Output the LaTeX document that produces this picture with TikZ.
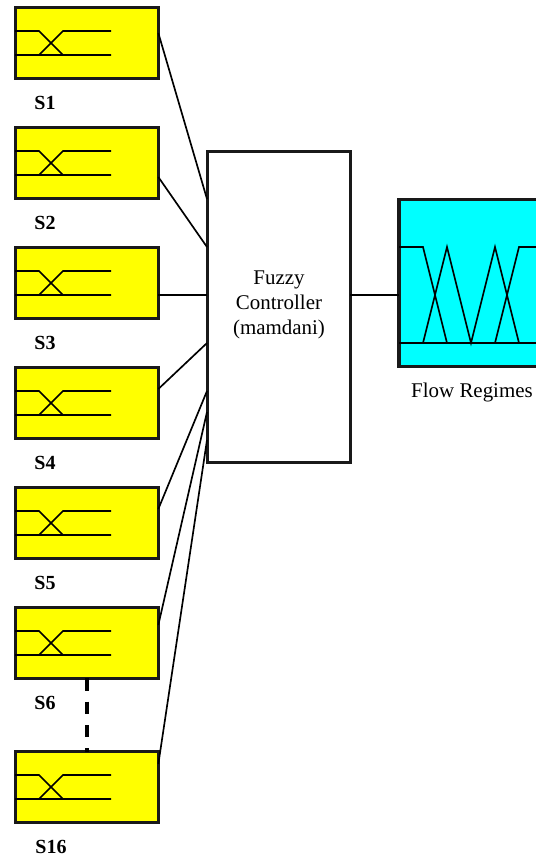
\documentclass[tikz,border=0pt]{standalone}
\usepackage{fontspec}
\setmainfont{Liberation Serif}
\usetikzlibrary{positioning}
\definecolor{sensoryellow}{rgb}{1,1,0}
\definecolor{regimecyan}{rgb}{0,1,1}

\begin{document}
\begin{tikzpicture}[x=0.75pt, y=-0.75pt, font=\fontsize{15.7}{18.7}\selectfont,
  sbox/.style={draw=black!90, line width=2.3pt, fill=sensoryellow, minimum width=107pt, minimum height=53pt, inner sep=0pt, outer sep=0pt},
  ctrl/.style={draw=black!90, line width=2.3pt, fill=white, align=center, minimum width=107pt, minimum height=233pt, inner sep=0pt, outer sep=0pt},
  regime/.style={draw=black!90, line width=2.3pt, fill=regimecyan, minimum width=107pt, minimum height=125pt, inner sep=0pt, outer sep=0pt},
  lbl/.style={font=\fontsize{15}{18}\selectfont\bfseries, inner sep=0pt, anchor=base},
  wire/.style={draw=black, line width=1.25pt},
  mf/.style={draw=black, line width=1.25pt},
  sdash/.style={draw=black, line width=2.5pt, dash pattern=on 9.3pt off 8.2pt}]
\useasboundingbox (0,0) rectangle (536,858);
% sensors (left)
\node[sbox] (s1)  at (87,43)  {};
\node[sbox] (s2)  at (87,163) {};
\node[sbox] (s3)  at (87,283) {};
\node[sbox] (s4)  at (87,403) {};
\node[sbox] (s5)  at (87,523) {};
\node[sbox] (s6)  at (87,643) {};
\node[sbox] (s16) at (87,787) {};
\node[lbl] (l1)  at (45,109) {S1};
\node[lbl] (l2)  at (45,229) {S2};
\node[lbl] (l3)  at (45,349) {S3};
\node[lbl] (l4)  at (45,469) {S4};
\node[lbl] (l5)  at (45,589) {S5};
\node[lbl] (l6)  at (45,709) {S6};
\node[lbl] (l16) at (51,853) {S16};
% switch symbol in each sensor
\foreach \y in {31,151,271,391,511,631,775}{
  \draw[mf] (15,\y) -- (39,\y) -- (63,\y+24) (15,\y+24) -- (111,\y+24);
  \draw[mf] (39,\y+24) -- (63,\y) -- (111,\y);
}
% controller + regimes (right)
\node[ctrl] (fc) at (279,307) {};
\node[inner sep=0pt, align=center] (fct) at (279,305) {Fuzzy\\Controller\\(mamdani)};
\node[regime, anchor=west] (fr) at (399,283) {};
\node[inner sep=0pt, anchor=base] (frl) at (472,397) {Flow Regimes};
\draw[mf] (399,247) -- (423,247) -- (447,343) (423,343) -- (447,247) -- (471,343) -- (495,247) -- (519,343);
\draw[mf] (495,343) -- (519,247) -- (536,247) (399,343) -- (536,343);
% edges to the controller
\draw[wire] (s1.east |- 0,33) -- (207,199);
\draw[wire] (s2.east |- 0,177) -- (207,247);
\draw[wire] (s3.east |- 0,295) -- (207,295);
\draw[wire] (s4.east |- 0,389) -- (207,343);
\draw[wire] (s5.east |- 0,509) -- (207,391);
\draw[wire] (s6.east |- 0,625) -- (207,412);
\draw[wire] (s16.east |- 0,764) -- (207,440);
\draw[wire] (fc.east |- 0,295) -- (fr.west |- 0,295);
\draw[sdash] (s6.south) -- (s16.north);
\end{tikzpicture}
\end{document}
